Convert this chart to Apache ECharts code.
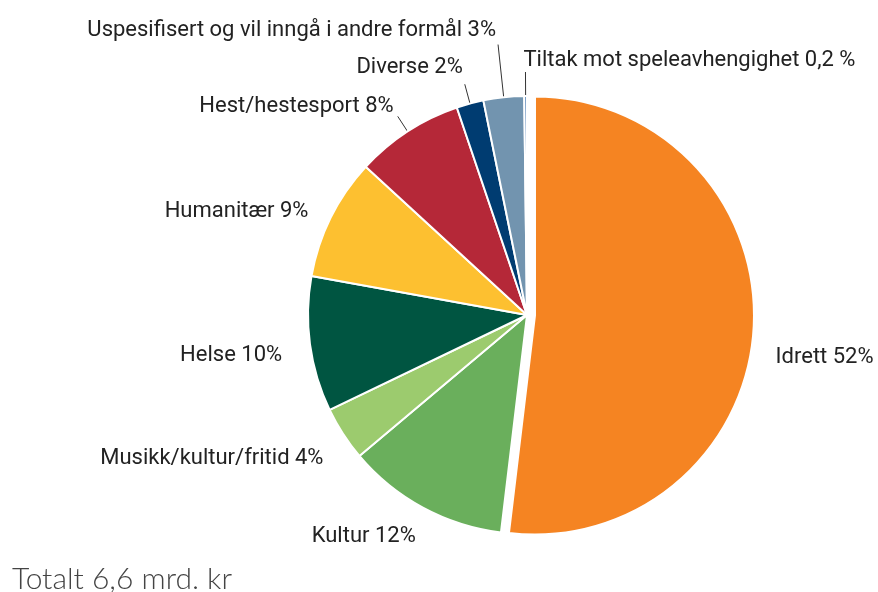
<!DOCTYPE html>
<html>
<head>
<meta charset="utf-8">
<script src="https://cdn.jsdelivr.net/npm/echarts@6/dist/echarts.min.js"></script>
<style>
  html, body { margin: 0; padding: 0; background: #fff; }
  #chart { width: 878px; height: 592px; }
</style>
</head>
<body>
<div id="chart"></div>
<script>
// kategorier og andeler (prosent)
var categories = ['Idrett', 'Kultur', 'Musikk/kultur/fritid', 'Helse', 'Humanitær',
                  'Hest/hestesport', 'Diverse', 'Uspesifisert og vil inngå i andre formål',
                  'Tiltak mot speleavhengighet'];
var shares = [52, 12, 4, 10, 9, 8, 2, 3, 0.2];
var shareLabels = ['52%', '12%', '4%', '10%', '9%', '8%', '2%', '3%', '0,2 %'];
var colors = ['#F58422', '#6AAF5C', '#9CCB6E', '#005541', '#FDC030',
              '#B52838', '#003C71', '#7294AF', '#4A7AB0'];

// lengde på linje og små justeringer av etikettene
var lineLen = [15, 15, 15, 15, 15, 18, 20, 53, 24];
var showLine = [false, false, false, false, false, true, true, true, true];
var nudge = [[2, 28], [5, 16], [-2, 16], [-8, 9], [-4, 1], [1, -10], [3, -17], [3, -14], [3, -12]];

var chart = echarts.init(document.getElementById('chart'));

var pieData = categories.map(function (name, i) {
    return {
        name: name,
        value: shares[i],
        selected: i === 0,
        itemStyle: { color: colors[i] },
        labelLine: { show: showLine[i], length: lineLen[i], length2: 0 }
    };
});

var option = {
    animation: false,
    title: {
        text: 'Totalt 6,6 mrd. kr',
        left: 7,
        top: 559,
        textStyle: {
            fontFamily: 'Lato',
            fontWeight: 300,
            fontSize: 30,
            color: '#444'
        }
    },
    series: [{
        type: 'pie',
        center: [527, 315],
        radius: 219,
        startAngle: 90,
        clockwise: true,
        selectedMode: 'single',
        selectedOffset: 8,
        avoidLabelOverlap: false,
        itemStyle: { borderColor: '#fff', borderWidth: 2 },
        label: {
            show: true,
            position: 'outside',
            fontFamily: 'Roboto',
            fontSize: 22,
            color: '#222',
            formatter: function (p) {
                return p.name + ' ' + shareLabels[p.dataIndex];
            }
        },
        labelLine: {
            lineStyle: { color: '#333', width: 1 }
        },
        labelLayout: function (p) {
            var n = nudge[p.dataIndex];
            var out = { dx: n[0], dy: n[1], labelLinePoints: p.labelLinePoints };
            if (p.dataIndex === 8) out.align = 'left';
            return out;
        },
        data: pieData
    }]
};

chart.setOption(option);
</script>
</body>
</html>
